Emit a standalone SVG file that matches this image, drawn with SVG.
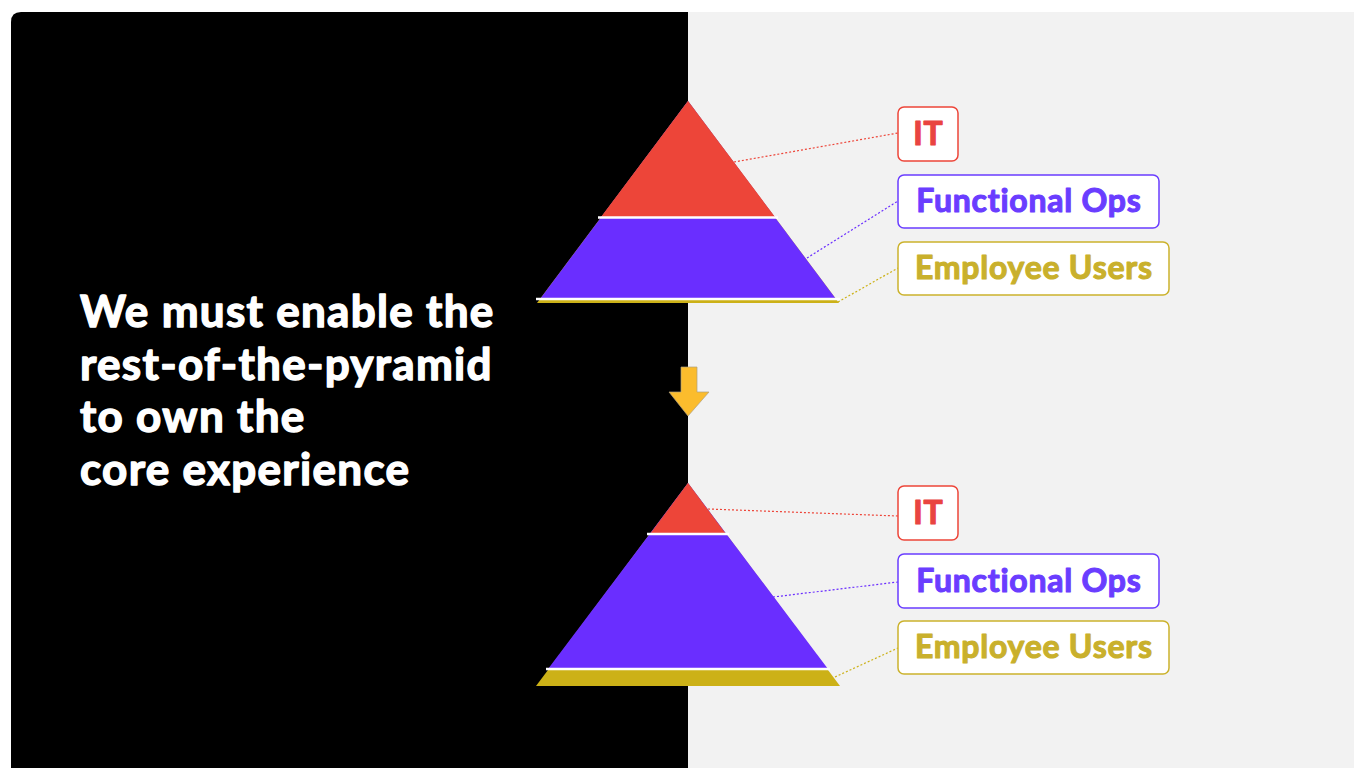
<svg xmlns="http://www.w3.org/2000/svg" width="1354" height="768" viewBox="0 0 1354 768">
  <style>
    .title { font-family: Lato, "Liberation Sans", sans-serif; font-weight: 700; font-size: 44px; fill: #ffffff; stroke: #ffffff; stroke-width: 1.4; stroke-linejoin: round; letter-spacing: 1.3px; font-variant-ligatures: none; }
    .lbl { font-family: Lato, "Liberation Sans", sans-serif; font-weight: 700; font-size: 32px; text-anchor: middle; stroke-width: 1.1; stroke-linejoin: round; letter-spacing: 0.75px; font-variant-ligatures: none; }
    .box { fill: #ffffff; stroke-width: 1.5; }
    .conn { fill: none; stroke-width: 1.2; stroke-dasharray: 2 2; }
    .red { fill: #ED4539; }
    .purple { fill: #6A2EFF; }
    .yellow { fill: #CCB117; }
    .sep { stroke: #ffffff; stroke-width: 2.5; }
  </style>
  <rect x="0" y="0" width="1354" height="768" fill="#ffffff"/>
  <g id="background">
    <rect x="688" y="12" width="666" height="756" fill="#F2F2F2"/>
    <path d="M688 12 H21 Q11 12 11 22 V768 H688 Z" fill="#000000"/>
  </g>
  <g id="title">
    <text class="title" x="80" y="327">We must enable the</text>
    <text class="title" x="80" y="380">rest-of-the-pyramid</text>
    <text class="title" x="80" y="432">to own the</text>
    <text class="title" x="80" y="485">core experience</text>
  </g>
  <g id="pyramid-top">
    <polygon class="yellow" points="688,101 839,303 537,303"/>
    <polygon class="purple" points="688,101 836,299 540,299"/>
    <polygon class="red" points="688,101 775,217 601,217"/>
    <line class="sep" x1="598" y1="217.5" x2="778" y2="217.5"/>
    <line class="sep" x1="536" y1="299" x2="840" y2="299"/>
  </g>
  <g id="arrow">
    <path d="M681 367 H697 V392 H709 L688 416 L669 392 H681 Z" fill="#FBBC2D" stroke="#B0A080" stroke-width="0.7"/>
  </g>
  <g id="pyramid-bottom">
    <polygon class="yellow" points="688,483 840,686 536,686"/>
    <polygon class="purple" points="688,483 828,669 548,669"/>
    <polygon class="red" points="688,483 726,534 650,534"/>
    <line class="sep" x1="647" y1="534" x2="729" y2="534"/>
    <line class="sep" x1="546" y1="669" x2="830" y2="669"/>
  </g>
  <g id="connectors">
    <line class="conn" x1="734" y1="162" x2="898" y2="133" stroke="#ED4539"/>
    <line class="conn" x1="807" y1="258" x2="898" y2="201" stroke="#6A2EFF"/>
    <line class="conn" x1="838" y1="302" x2="898" y2="268" stroke="#CCB117"/>
    <line class="conn" x1="708" y1="509" x2="898" y2="516" stroke="#ED4539"/>
    <line class="conn" x1="773" y1="597" x2="898" y2="582" stroke="#6A2EFF"/>
    <line class="conn" x1="835" y1="677" x2="898" y2="648" stroke="#CCB117"/>
  </g>
  <g id="label-it-top">
    <rect class="box" x="898" y="107" width="60" height="54" rx="6" stroke="#ED4539"/>
    <text class="lbl" x="928.4" y="145" fill="#E94440" stroke="#E94440">IT</text>
  </g>
  <g id="label-fo-top">
    <rect class="box" x="898" y="175" width="261" height="53" rx="6" stroke="#6A3DFF"/>
    <text class="lbl" x="1028.9" y="212" fill="#6A3DFF" stroke="#6A3DFF">Functional Ops</text>
  </g>
  <g id="label-eu-top">
    <rect class="box" x="898" y="242" width="271" height="53" rx="6" stroke="#CBB22C"/>
    <text class="lbl" x="1033.9" y="279" fill="#C9B02C" stroke="#C9B02C">Employee Users</text>
  </g>
  <g id="label-it-bottom">
    <rect class="box" x="898" y="486" width="60" height="54" rx="6" stroke="#ED4539"/>
    <text class="lbl" x="928.4" y="524" fill="#E94440" stroke="#E94440">IT</text>
  </g>
  <g id="label-fo-bottom">
    <rect class="box" x="898" y="554" width="261" height="54" rx="6" stroke="#6A3DFF"/>
    <text class="lbl" x="1028.9" y="592" fill="#6A3DFF" stroke="#6A3DFF">Functional Ops</text>
  </g>
  <g id="label-eu-bottom">
    <rect class="box" x="898" y="621" width="271" height="53" rx="6" stroke="#CBB22C"/>
    <text class="lbl" x="1033.9" y="658" fill="#C9B02C" stroke="#C9B02C">Employee Users</text>
  </g>
</svg>
